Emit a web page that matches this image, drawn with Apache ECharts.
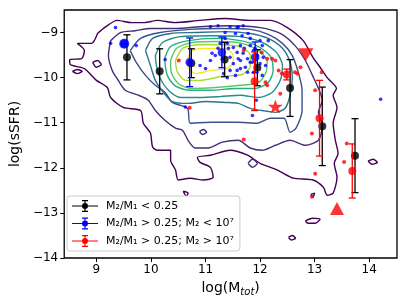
<!DOCTYPE html>
<html><head><meta charset="utf-8">
<script src="https://cdn.jsdelivr.net/npm/echarts@6/dist/echarts.min.js"></script>
<style>html,body{margin:0;padding:0;background:#fff}#c{width:407px;height:306px}</style>
</head><body><div id="c"></div>
<script>
// ---------- data ----------
const xTicks = [9, 10, 11, 12, 13, 14];
const yTicks = [-14, -13, -12, -11, -10, -9];

const levelColors = ['#440154','#472c7a','#3b518b','#2c718e','#21908d','#27ad81','#5cc863','#aadc32','#fde725'];

const contourL1 = [[9.02,-9.02],[9.15,-8.89],[9.38,-8.73],[9.64,-8.78],[9.88,-8.78],[10.12,-8.73],[10.43,-8.78],[10.90,-8.73],[11.36,-8.69],[11.82,-8.73],[12.19,-8.73],[12.50,-8.89],[12.79,-9.18],[12.97,-9.55],[13.10,-9.77],[13.23,-10.0],[13.40,-10.24],[13.34,-10.39],[13.41,-10.66],[13.34,-11.01],[13.38,-11.39],[13.43,-11.68],[13.36,-11.90],[13.41,-12.21],[13.34,-12.56],[13.23,-12.61],[13.16,-12.43],[12.97,-12.27],[12.61,-12.23],[12.32,-12.05],[12.0,-11.90],[11.77,-11.72],[11.45,-11.61],[11.09,-11.72],[10.85,-11.77],[10.90,-11.88],[11.09,-11.99],[11.14,-12.21],[10.96,-12.27],[10.72,-12.23],[10.50,-12.27],[10.45,-12.05],[10.36,-11.83],[10.36,-11.61],[10.12,-11.61],[10.03,-11.54],[9.99,-11.23],[9.86,-11.01],[9.81,-10.73],[9.49,-10.66],[9.26,-10.44],[9.20,-10.22],[9.0,-10.06],[8.78,-9.80],[8.52,-9.71],[8.51,-9.60],[8.73,-9.58],[8.78,-9.40],[8.65,-9.24],[8.91,-9.24]];
const islandsL1 = [
  [[8.56,-9.86],[8.65,-9.82],[8.74,-9.86],[8.65,-9.91]],
  [[8.93,-9.66],[9.02,-9.62],[9.09,-9.71],[9.0,-9.77]],
  [[10.59,-12.52],[10.68,-12.56],[10.65,-12.63]],
  [[13.98,-11.85],[14.07,-11.81],[14.15,-11.88],[14.05,-11.92]],
  [[12.52,-13.54],[12.59,-13.50],[12.65,-13.56],[12.57,-13.60]],
  [[12.83,-13.18],[12.96,-13.12],[13.10,-13.14],[13.01,-13.23],[12.88,-13.23]],
  [[12.93,-12.59],[13.0,-12.56],[12.97,-12.65]]
];
const contourL2 = [[9.26,-9.18],[9.44,-9.0],[9.71,-8.96],[9.99,-8.91],[10.45,-8.91],[10.90,-8.87],[11.45,-8.85],[12.0,-8.89],[12.37,-9.02],[12.64,-9.29],[12.83,-9.62],[12.96,-9.95],[13.07,-10.24],[13.14,-10.50],[13.07,-10.77],[13.14,-11.06],[13.07,-11.39],[12.83,-11.50],[12.55,-11.39],[12.28,-11.50],[12.04,-11.61],[11.82,-11.56],[11.60,-11.39],[11.31,-11.43],[11.05,-11.56],[10.81,-11.56],[10.68,-11.39],[10.58,-11.17],[10.45,-11.12],[10.26,-10.95],[10.08,-10.73],[9.95,-10.50],[9.77,-10.39],[9.53,-10.28],[9.40,-10.06],[9.29,-9.84],[9.22,-9.51]];
const islandsL2 = [
  [[10.89,-11.19],[10.96,-11.15],[11.02,-11.21],[10.94,-11.26]],
  [[11.78,-11.90],[11.86,-11.81],[11.95,-11.90],[11.86,-11.99]]
];
const contourL3 = [[9.62,-9.40],[9.81,-9.13],[10.17,-9.0],[10.72,-8.93],[11.27,-8.91],[11.82,-8.93],[12.15,-9.04],[12.41,-9.24],[12.59,-9.51],[12.70,-9.88],[12.77,-10.28],[12.77,-10.73],[12.66,-11.12],[12.55,-11.21],[12.44,-10.90],[12.19,-10.90],[11.95,-11.01],[11.58,-10.99],[11.09,-10.99],[10.72,-11.01],[10.67,-10.68],[10.39,-10.55],[10.26,-10.33],[10.08,-10.17],[9.90,-9.95],[9.73,-9.66]];
const contourL4 = [[9.90,-9.40],[10.03,-9.13],[10.36,-9.02],[10.81,-9.0],[11.36,-8.98],[11.82,-9.02],[12.15,-9.13],[12.41,-9.35],[12.55,-9.66],[12.59,-10.02],[12.55,-10.39],[12.46,-10.68],[12.28,-10.77],[12.04,-10.73],[11.82,-10.68],[11.60,-10.57],[11.36,-10.55],[11.0,-10.53],[10.67,-10.57],[10.39,-10.53],[10.23,-10.33],[10.08,-10.06],[9.99,-9.73]];
const contourL5 = [[10.08,-9.51],[10.21,-9.22],[10.54,-9.09],[11.09,-9.07],[11.64,-9.09],[12.04,-9.22],[12.30,-9.44],[12.41,-9.73],[12.37,-10.06],[12.22,-10.33],[11.97,-10.44],[11.64,-10.39],[11.27,-10.42],[10.90,-10.44],[10.54,-10.44],[10.32,-10.28],[10.17,-10.02],[10.10,-9.73]];
const contourL6 = [[10.25,-9.58],[10.36,-9.31],[10.69,-9.18],[11.18,-9.13],[11.64,-9.18],[11.97,-9.31],[12.19,-9.53],[12.24,-9.84],[12.15,-10.11],[11.91,-10.24],[11.55,-10.24],[11.09,-10.28],[10.72,-10.28],[10.45,-10.19],[10.30,-9.95]];
const contourL7 = [[10.36,-9.62],[10.47,-9.35],[10.76,-9.22],[11.23,-9.20],[11.67,-9.24],[11.97,-9.40],[12.13,-9.62],[12.11,-9.88],[11.97,-10.11],[11.64,-10.17],[11.18,-10.22],[10.72,-10.24],[10.50,-10.13],[10.37,-9.88]];
const contourL8 = [[10.45,-9.62],[10.58,-9.35],[10.87,-9.27],[11.31,-9.27],[11.67,-9.33],[11.82,-9.51],[11.82,-9.75],[11.67,-9.93],[11.31,-9.97],[10.90,-10.06],[10.63,-10.06],[10.48,-9.86]];
const contourL9 = [[10.67,-9.58],[10.76,-9.40],[11.0,-9.35],[11.31,-9.35],[11.49,-9.46],[11.51,-9.66],[11.38,-9.80],[11.09,-9.84],[10.83,-9.91],[10.69,-9.80]];

const bluePointsX = [9.26,9.35,9.73,10.26,10.63,11.09,11.23,11.45,11.60,11.69,11.55,11.67,11.82,12.0,12.15,12.04,11.36,11.27,11.42,11.51,11.64,11.58,11.69,11.77,11.64,11.51,11.45,11.58,11.73,11.86,12.0,12.10,11.40,11.33,11.09,11.12,11.18,11.0,10.90,11.88,12.04,11.82,11.88,11.95,11.86,11.93,11.78,11.40,11.45,11.60,11.82,12.06,11.77,11.64,11.55,14.21,11.36,11.58,11.23,11.31,11.71,11.91];
const bluePointsY = [-9.24,-8.89,-9.29,-9.60,-10.65,-8.87,-8.85,-8.87,-8.87,-8.85,-9.02,-9.07,-9.13,-9.18,-9.18,-9.29,-9.13,-9.24,-9.35,-9.33,-9.29,-9.44,-9.46,-9.58,-9.62,-9.69,-9.84,-9.84,-9.77,-9.66,-9.69,-9.73,-10.0,-9.91,-9.62,-9.46,-9.51,-9.80,-9.73,-9.88,-9.95,-9.29,-9.40,-9.51,-10.84,-10.50,-9.02,-9.24,-9.55,-9.58,-9.66,-9.55,-9.88,-9.80,-9.95,-10.48,-9.0,-8.89,-9.35,-9.58,-9.35,-9.35];

const redPointsX = [10.51,10.71,12.22,12.28,12.34,12.40,12.64,12.68,12.74,12.10,12.13,12.37,13.13,13.01,11.70,12.13,12.95,11.70,13.59,13.54,13.01,12.95,12.03];
const redPointsY = [-9.62,-10.67,-9.58,-9.62,-9.84,-9.91,-9.88,-9.91,-9.77,-10.10,-10.17,-10.36,-9.88,-10.28,-9.40,-9.58,-11.24,-11.37,-11.46,-11.87,-12.13,-12.64,-9.44];

const blackX = [9.56,10.16,10.74,11.35,11.95,12.55,13.14,13.74];
const blackY = [-9.55,-9.86,-9.68,-9.60,-9.78,-10.23,-11.08,-11.73];
const blackErr = [0.50,0.50,0.32,0.38,0.40,0.63,0.87,0.82];

const blueX = [9.51,10.71,11.30,11.91];
const blueY = [-9.25,-9.66,-9.44,-9.55];
const blueErr = [0,0.54,0.34,0.34];

const redX = [11.90,12.49,13.09,13.69];
const redY = [-10.08,-9.93,-10.90,-12.07];
const redErr = [0.65,0.12,0.84,0.60];

const starPoint = [12.28,-10.64];
const downTrianglePoint = [12.84,-9.49];
const upTrianglePoint = [13.41,-12.90];

const seriesNames = ['M\u2082/M\u2081 < 0.25', 'M\u2082/M\u2081 > 0.25; M\u2082 < 10\u2077', 'M\u2082/M\u2081 > 0.25; M\u2082 > 10\u2077'];
const groupColors = ['#000000', '#0000ff', '#ff0000'];

// ---------- build ----------
const FONT = 'DejaVu Sans';
function closeRing(a){ return a.concat([a[0]]); }
function contourSeries(ring, color){
  return {type:'line', data: closeRing(ring), showSymbol:false, symbol:'none', silent:true, z:1,
    lineStyle:{color:color, width:1.4}, smooth:0.25, animation:false};
}
const series = [];
const mainRings = [contourL1,contourL2,contourL3,contourL4,contourL5,contourL6,contourL7,contourL8,contourL9];
mainRings.forEach((r,i)=>series.push(contourSeries(r, levelColors[i])));
islandsL1.forEach(r=>series.push(contourSeries(r, levelColors[0])));
islandsL2.forEach(r=>series.push(contourSeries(r, levelColors[1])));

series.push({type:'scatter', data: bluePointsX.map((x,i)=>[x,bluePointsY[i]]), symbolSize:3.6, itemStyle:{color:'#0000ff'}, z:2, silent:true});
series.push({type:'scatter', data: redPointsX.map((x,i)=>[x,redPointsY[i]]), symbolSize:4, itemStyle:{color:'#ff0000'}, z:2, silent:true});

function errRender(color){
  return function(params, api){
    const x = api.value(0), lo = api.value(1), hi = api.value(2);
    const p1 = api.coord([x, lo]), p2 = api.coord([x, hi]);
    const cw = 3.5;
    const style = {stroke: color, lineWidth: 1.3, fill: null};
    return {type:'group', children:[
      {type:'line', shape:{x1:p1[0], y1:p1[1], x2:p2[0], y2:p2[1]}, style:style},
      {type:'line', shape:{x1:p1[0]-cw, y1:p1[1], x2:p1[0]+cw, y2:p1[1]}, style:style},
      {type:'line', shape:{x1:p2[0]-cw, y1:p2[1], x2:p2[0]+cw, y2:p2[1]}, style:style}
    ]};
  };
}
const groups = [[blackX,blackY,blackErr],[blueX,blueY,blueErr],[redX,redY,redErr]];
groups.forEach((g,gi)=>{
  const [gx,gy,ge] = g;
  series.push({type:'custom', name: seriesNames[gi], renderItem: errRender(groupColors[gi]),
    data: gx.map((x,i)=>[x, gy[i]-ge[i], gy[i]+ge[i]]), encode:{x:0, y:[1,2]},
    itemStyle:{color: groupColors[gi]}, z:3+gi, silent:true});
  series.push({type:'scatter', name: seriesNames[gi], data: gx.map((x,i)=>[x, gy[i]]),
    symbolSize: gi===1 ? 8.5 : 8, itemStyle:{color: groupColors[gi]}, z:3+gi, silent:true});
});
// big blue point is larger
series.push({type:'scatter', data:[[blueX[0], blueY[0]]], symbolSize:10, itemStyle:{color:'#0000ff'}, z:4, silent:true});

const starPath = 'path://M50,0 L61.8,35.1 L98.9,35.1 L68.8,56.8 L80.3,91.9 L50,70.2 L19.7,91.9 L31.2,56.8 L1.1,35.1 L38.2,35.1 Z';
series.push({type:'scatter', data:[starPoint], symbol: starPath, symbolSize:15, symbolKeepAspect:true, itemStyle:{color:'#ff0000'}, z:10, silent:true});
series.push({type:'scatter', data:[downTrianglePoint], symbol:'triangle', symbolRotate:180, symbolSize:[15,13], itemStyle:{color:'#ff0000'}, z:10, silent:true});
series.push({type:'scatter', data:[upTrianglePoint], symbol:'triangle', symbolSize:[14,13], itemStyle:{color:'#ff0000'}, z:10, silent:true});

const legendIcon = 'path://M0,5.4H26V6.6H0Z M12.4,0H13.6V12H12.4Z M10,0H16V1.2H10Z M10,10.8H16V12H10Z M16,6A3,3 0 1,1 10,6A3,3 0 1,1 16,6Z';

const minus = v => String(v).replace('-', '\u2212');

const chart = echarts.init(document.getElementById('c'), null, {renderer:'canvas'});
chart.setOption({
  animation:false,
  backgroundColor:'#fff',
  textStyle:{fontFamily:FONT},
  grid:{left:64, right:10, top:10, bottom:48, show:true, borderColor:'#000', borderWidth:1.3, backgroundColor:'transparent'},
  xAxis:{type:'value', min:8.41, max:14.51,
    axisLine:{show:false}, splitLine:{show:false},
    axisTick:{show:true, customValues:xTicks, length:4, lineStyle:{color:'#000', width:1}},
    axisLabel:{show:true, customValues:xTicks, formatter:minus, color:'#000', fontSize:12, fontFamily:FONT, margin:6},
    name:'log(M{s|tot})', nameLocation:'middle', nameGap:21,
    nameTextStyle:{color:'#000', fontSize:14, fontFamily:FONT, rich:{s:{fontSize:10, fontStyle:'italic', fontFamily:FONT, color:'#000', padding:[8,0,0,0]}}}
  },
  yAxis:{type:'value', min:-14, max:-8.5,
    axisLine:{show:false}, splitLine:{show:false},
    axisTick:{show:true, customValues:yTicks, length:4, lineStyle:{color:'#000', width:1}},
    axisLabel:{show:true, customValues:yTicks, formatter:minus, color:'#000', fontSize:12, fontFamily:FONT, margin:6},
    name:'log(sSFR)', nameLocation:'middle', nameGap:40, nameRotate:90,
    nameTextStyle:{color:'#000', fontSize:14, fontFamily:FONT}
  },
  legend:{show:true, orient:'vertical', left:67, top:196,
    data: seriesNames.map((n,i)=>({name:n, icon:legendIcon, itemStyle:{color:groupColors[i]}})),
    itemWidth:26, itemHeight:12, itemGap:5.5, padding:[4,6,4,5],
    backgroundColor:'rgba(255,255,255,0.85)', borderColor:'#cccccc', borderWidth:1, borderRadius:3,
    textStyle:{color:'#000', fontSize:11, fontFamily:FONT, padding:[0,0,0,3]},
    selectedMode:false},
  series: series
});
</script></body></html>
